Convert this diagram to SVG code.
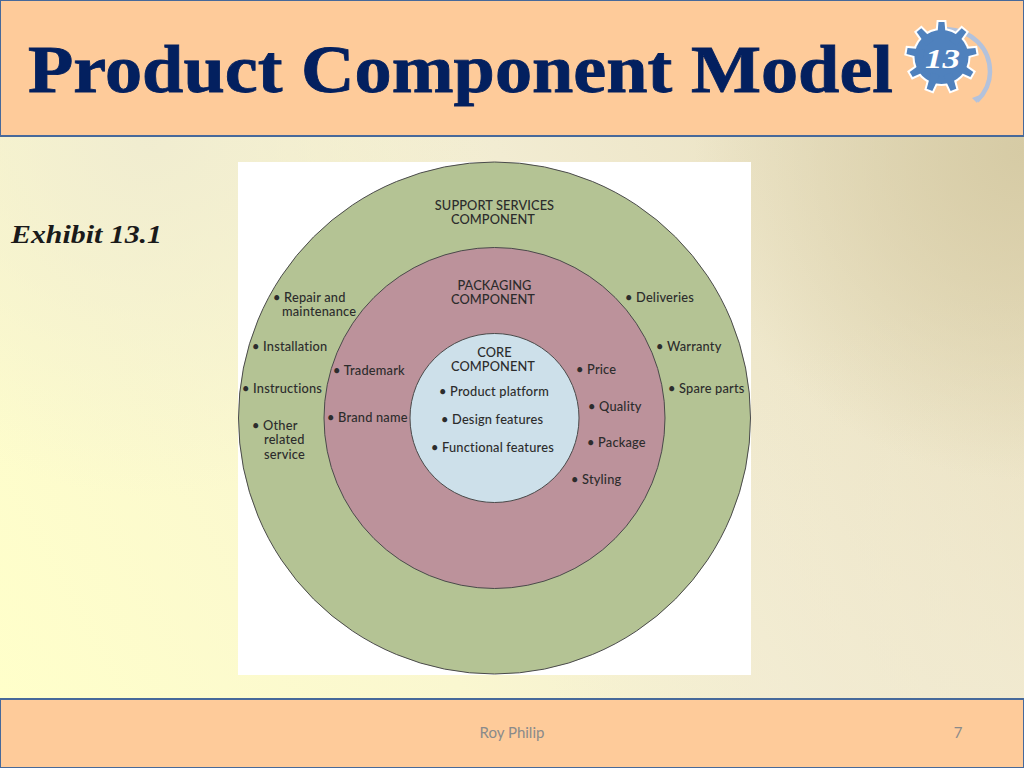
<svg xmlns="http://www.w3.org/2000/svg" width="1024" height="768" viewBox="0 0 1024 768">
<style>
.band{fill:#fecb9a;stroke:#47699a;stroke-width:2}
.t{font-family:Lato,"Open Sans",sans-serif;font-size:12.8px;font-weight:500;fill:#2c2c2c;letter-spacing:.2px}
.h{letter-spacing:.1px}
.c{text-anchor:middle}
.ring{stroke:#4a4a4a;stroke-width:1}
.foot{font-family:Lato,"Noto Sans",sans-serif;font-size:15px;fill:#8a8a8a}
</style>
<defs>
<linearGradient id="bg" gradientUnits="userSpaceOnUse" x1="0" y1="700" x2="1024" y2="140">
<stop offset="0" stop-color="#ffffca"/><stop offset=".35" stop-color="#faf7d0"/><stop offset=".6" stop-color="#f2ecd2"/><stop offset="1" stop-color="#e6dcbb"/>
</linearGradient>
<radialGradient id="bg2" gradientUnits="userSpaceOnUse" cx="1024" cy="768" r="480">
<stop offset="0" stop-color="#f2ebd2" stop-opacity=".9"/><stop offset="1" stop-color="#f2ebd2" stop-opacity="0"/>
</radialGradient>
<radialGradient id="bg3" gradientUnits="userSpaceOnUse" cx="150" cy="137" r="360">
<stop offset="0" stop-color="#f0ecd0" stop-opacity=".95"/><stop offset="1" stop-color="#f0ecd0" stop-opacity="0"/>
</radialGradient>
<radialGradient id="bg4" gradientUnits="userSpaceOnUse" cx="1024" cy="150" r="330">
<stop offset="0" stop-color="#d6cba5" stop-opacity="1"/><stop offset="1" stop-color="#d6cba5" stop-opacity="0"/>
</radialGradient>
<polygon id="tooth" points="-4.500,-18 -3,-35 3,-35 4.500,-18"/>
<g id="gear">
<circle r="27"/>
<use href="#tooth"/><use href="#tooth" transform="rotate(40)"/><use href="#tooth" transform="rotate(80)"/><use href="#tooth" transform="rotate(120)"/><use href="#tooth" transform="rotate(160)"/><use href="#tooth" transform="rotate(200)"/><use href="#tooth" transform="rotate(240)"/><use href="#tooth" transform="rotate(280)"/><use href="#tooth" transform="rotate(320)"/>
</g>
</defs>
<rect width="1024" height="768" fill="url(#bg)"/>
<rect width="1024" height="768" fill="url(#bg3)"/>
<rect width="1024" height="768" fill="url(#bg2)"/>
<rect width="1024" height="768" fill="url(#bg4)"/>
<g id="header">
<rect class="band" x="0" y="0" width="1024" height="136"/>
<text x="28" y="92" font-family="Liberation Serif,serif" font-weight="700" font-size="68" fill="#03205f" stroke="#03205f" stroke-width=".8" textLength="865" lengthAdjust="spacingAndGlyphs">Product Component Model</text>
</g>
<g id="badge">
<path d="M946 29 C972 30 990 48 990 72 C990 82 986 92 977 101" fill="none" stroke="#b3c2dc" stroke-width="4.500"/>
<polygon points="972,98 980,95 977,103" fill="#b3c2dc"/>
<use href="#gear" transform="translate(941.500 57)" fill="#fff" stroke="#fff" stroke-width="4"/>
<use href="#gear" transform="translate(941.500 57)" fill="#4f81bd"/>
<text x="925" y="68" font-family="Liberation Serif,serif" font-style="italic" font-weight="700" font-size="27" fill="#fff" textLength="35" lengthAdjust="spacingAndGlyphs">13</text>
</g>
<text id="exhibit" x="11" y="243" font-family="Liberation Serif,serif" font-style="italic" font-weight="700" font-size="26" fill="#1a1a1a" textLength="151" lengthAdjust="spacingAndGlyphs">Exhibit 13.1</text>
<g id="exhibit-picture">
<rect x="238" y="162" width="513" height="513" fill="#fff"/>
<circle class="ring" cx="494.500" cy="418" r="256" fill="#b4c394"/>
<circle class="ring" cx="494.500" cy="418" r="170.500" fill="#bc929b"/>
<circle class="ring" cx="494.500" cy="418" r="84.500" fill="#cde0ea"/>
</g>
<g id="support" class="t">
<text class="c h" x="494.500" y="210">SUPPORT SERVICES</text>
<text class="c h" x="493" y="224">COMPONENT</text>
<text x="273" y="302">• Repair and</text>
<text x="282" y="316">maintenance</text>
<text x="252" y="351">• Installation</text>
<text x="242" y="393">• Instructions</text>
<text x="252" y="430">• Other</text>
<text x="264" y="444">related</text>
<text x="264" y="459">service</text>
<text x="625" y="302">• Deliveries</text>
<text x="656" y="351">• Warranty</text>
<text x="668" y="393">• Spare parts</text>
</g>
<g id="packaging" class="t">
<text class="c h" x="494.500" y="290">PACKAGING</text>
<text class="c h" x="493" y="304">COMPONENT</text>
<text x="333" y="375">• Trademark</text>
<text x="327" y="422">• Brand name</text>
<text x="576" y="374">• Price</text>
<text x="588" y="411">• Quality</text>
<text x="587" y="447">• Package</text>
<text x="571" y="484">• Styling</text>
</g>
<g id="core" class="t">
<text class="c h" x="494.500" y="357">CORE</text>
<text class="c h" x="493" y="371">COMPONENT</text>
<text x="439" y="396">• Product platform</text>
<text x="441" y="424">• Design features</text>
<text x="431" y="452">• Functional features</text>
</g>
<g id="footer">
<rect class="band" x="0" y="699" width="1024" height="69"/>
<text class="foot" x="512" y="738" text-anchor="middle">Roy Philip</text>
<text class="foot" x="958" y="738" text-anchor="middle">7</text>
</g>
</svg>
